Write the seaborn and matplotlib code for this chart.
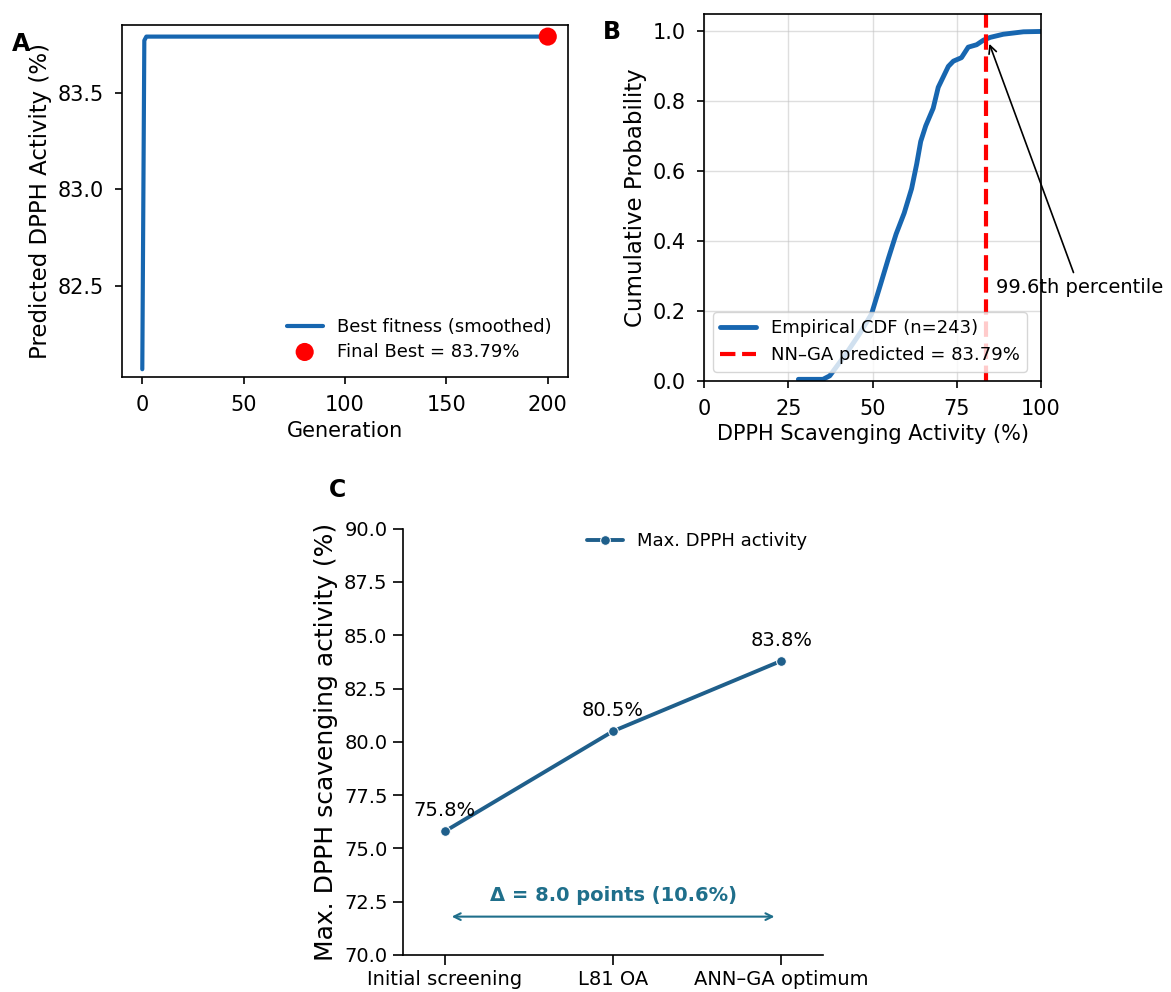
import matplotlib
matplotlib.use("Agg")
import matplotlib.pyplot as plt
import seaborn as sns

# =========================
# DATA
# =========================
# A: GA convergence, best fitness per generation (smoothed)
GENERATIONS = [0, 1, 2, 200]
BEST_FITNESS = [82.07, 83.77, 83.79, 83.79]
FINAL_BEST = 83.79

CDF_ACTIVITY = [28.0, 35.3, 37.3, 42.0, 46.2, 49.7, 52.2, 54.7, 57.0, 59.4,
                61.6, 63.1, 64.3, 65.8, 68.0, 69.5, 72.5, 74.0, 76.4, 78.4,
                80.9, 82.9, 84.9, 88.8, 94.8, 100.0]
CDF_PROB = [0.004, 0.004, 0.014, 0.075, 0.135, 0.191, 0.27, 0.35, 0.42, 0.48,
            0.55, 0.62, 0.685, 0.73, 0.78, 0.84, 0.90, 0.915, 0.925, 0.955,
            0.962, 0.975, 0.983, 0.992, 0.999, 1.0]
N_SAMPLES = 243
PERCENTILE_TEXT = "99.6th percentile"

# C: max DPPH activity per optimisation stage
STAGES = ["Initial screening", "L81 OA", "ANN\u2013GA optimum"]
MAX_ACTIVITY = [75.8, 80.5, 83.8]

BLUE = "#1766b0"
C_LINE = "#1f5f8b"
C_TEXT = "#1f6f8b"

# =========================
# STYLE
# =========================
sns.set_theme(style="ticks")
plt.rcParams.update({
    "font.family": ["DejaVu Sans"],
    "axes.edgecolor": "black",
    "axes.labelcolor": "black",
    "xtick.color": "black",
    "ytick.color": "black",
    "text.color": "black",
    "axes.linewidth": 1.2,
})

fig = plt.figure(figsize=(11.71, 9.92), dpi=100)
axA = fig.add_axes([0.1042, 0.620, 0.3809, 0.3548])
axB = fig.add_axes([0.6012, 0.6162, 0.2878, 0.3697])
axC = fig.add_axes([0.3439, 0.0373, 0.3593, 0.4298])

# =========================
# PANEL A
# =========================
sns.lineplot(x=GENERATIONS, y=BEST_FITNESS, ax=axA, color=BLUE, lw=3,
             label="Best fitness (smoothed)")
sns.scatterplot(x=[GENERATIONS[-1]], y=[FINAL_BEST], ax=axA, color="red",
                s=170, edgecolor="none", zorder=5,
                label=f"Final Best = {FINAL_BEST:.2f}%")
axA.set_ylim(82.03, 83.85)
axA.set_xticks([0, 50, 100, 150, 200])
axA.set_yticks([82.5, 83.0, 83.5])
axA.set_xlabel("Generation", fontsize=15)
axA.set_ylabel("Predicted DPPH Activity (%)", fontsize=16.5)
axA.tick_params(labelsize=15, length=5, width=1.2, pad=8)
axA.legend(loc="lower right", frameon=False, fontsize=13, labelspacing=0.35)

# =========================
# PANEL B
# =========================
sns.lineplot(x=CDF_ACTIVITY, y=CDF_PROB, ax=axB, color=BLUE, lw=3.5,
             label=f"Empirical CDF (n={N_SAMPLES})")
axB.axvline(FINAL_BEST, color="red", ls="--", lw=3,
            label=f"NN\u2013GA predicted = {FINAL_BEST:.2f}%")
axB.annotate(PERCENTILE_TEXT, xy=(FINAL_BEST + 0.6, 0.972), xytext=(86.5, 0.25),
             fontsize=14, annotation_clip=False,
             arrowprops=dict(arrowstyle="->", color="black", lw=1.2))
axB.set_xlim(0, 100)
axB.set_ylim(0, 1.05)
axB.set_xticks([0, 25, 50, 75, 100])
axB.set_yticks([0.0, 0.2, 0.4, 0.6, 0.8, 1.0])
axB.grid(True, color="#c4c4c4", alpha=0.55, lw=1)
axB.set_axisbelow(True)
axB.set_xlabel("DPPH Scavenging Activity (%)", fontsize=15)
axB.set_ylabel("Cumulative Probability", fontsize=16.5)
axB.tick_params(labelsize=15, length=5, width=1.2, pad=8)
axB.legend(loc="lower left", fontsize=13)

# =========================
# PANEL C
# =========================
sns.lineplot(x=STAGES, y=MAX_ACTIVITY, ax=axC, color=C_LINE, lw=2.8,
             marker="o", markersize=7, sort=False, label="Max. DPPH activity")
for i, val in enumerate(MAX_ACTIVITY):
    axC.annotate(f"{val:.1f}%", xy=(i, val), xytext=(0, 8),
                 textcoords="offset points", ha="center", va="bottom",
                 fontsize=14)

gain = MAX_ACTIVITY[-1] - MAX_ACTIVITY[0]
gain_pct = gain / MAX_ACTIVITY[0] * 100
axC.annotate("", xy=(len(STAGES) - 1, 71.8), xytext=(0, 71.8),
             arrowprops=dict(arrowstyle="<->", color=C_TEXT, lw=1.5,
                             shrinkA=5, shrinkB=5))
axC.text(1, 72.35, f"\u0394 = {gain:.1f} points ({gain_pct:.1f}%)",
         ha="center", va="bottom", fontsize=14, fontweight="bold",
         color=C_TEXT)

axC.set_xlim(-0.25, 2.25)
axC.set_ylim(70, 90)
axC.set_yticks([70, 72.5, 75, 77.5, 80, 82.5, 85, 87.5, 90])
axC.set_xlabel("")
axC.set_ylabel("Max. DPPH scavenging activity (%)", fontsize=18)
axC.tick_params(labelsize=14, length=7, width=1.2, pad=4)
axC.legend(loc="upper right", frameon=False, fontsize=13,
           bbox_to_anchor=(1.0, 1.03))
sns.despine(ax=axC)

# panel letters
fig.text(21 / 1171, 1 - 44 / 992, "A", fontsize=17, fontweight="bold",
         ha="center", va="center")
fig.text(612 / 1171, 1 - 32 / 992, "B", fontsize=17, fontweight="bold",
         ha="center", va="center")
fig.text(338 / 1171, 1 - 490 / 992, "C", fontsize=17, fontweight="bold",
         ha="center", va="center")

fig.savefig("out.png", dpi=100)
